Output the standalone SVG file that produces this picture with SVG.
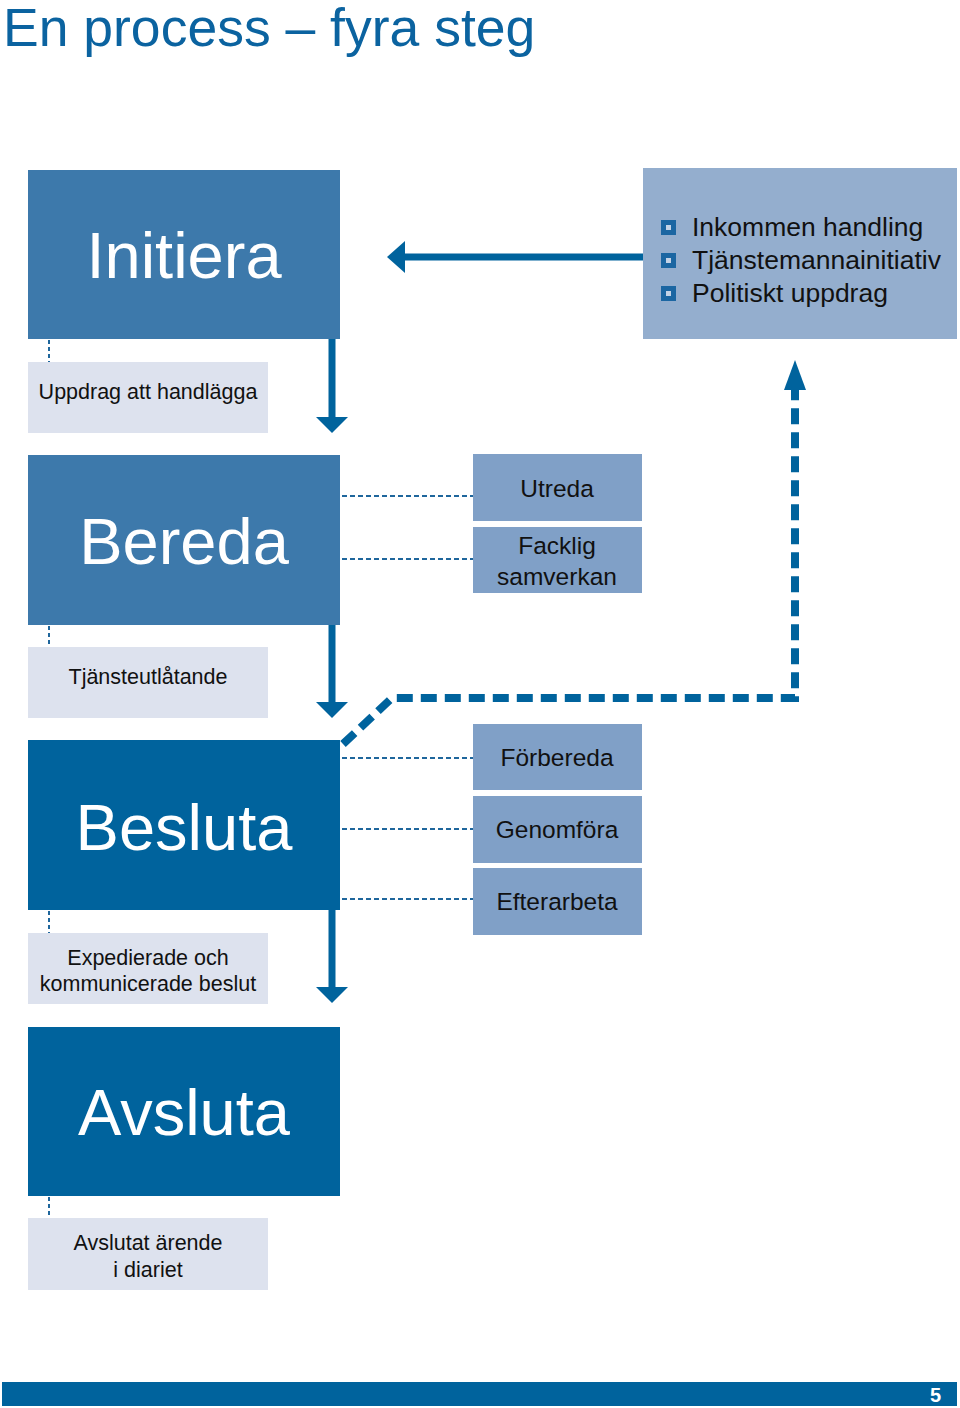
<svg xmlns="http://www.w3.org/2000/svg" width="960" height="1408" viewBox="0 0 960 1408">
<style>
.t{font-family:"Liberation Sans",Arial,sans-serif}
.big{font-size:65px;fill:#fff;text-anchor:middle}
.sub{font-size:24.5px;fill:#111;text-anchor:middle}
.lbl{font-size:21.5px;fill:#111;text-anchor:middle}
.lst{font-size:26.5px;fill:#111}
.stepA{fill:#3D79AB}
.stepB{fill:#00639D}
.gray{fill:#DDE2EE}
.sbox{fill:#80A0C7}
.thin{stroke:#1F669C;stroke-width:2;stroke-dasharray:5 3;fill:none}
.dot{stroke:#1F669C;stroke-width:2;stroke-dasharray:4 3;fill:none}
.solid{stroke:#00639D;stroke-width:7;fill:none}
.thick{stroke:#00639D;stroke-width:8;stroke-dasharray:16 8;fill:none}
.head{fill:#00639D}
.bul{fill:#1B66A2}
.bin{fill:#C4D3E6}
</style>
<rect width="960" height="1408" fill="#fff"/>
<text class="t" x="3" y="46" font-size="53.5" fill="#0B63A0">En process – fyra steg</text>

<g id="connectors">
  <line class="dot" x1="49" y1="340" x2="49" y2="362"/>
  <line class="dot" x1="49" y1="626" x2="49" y2="647"/>
  <line class="dot" x1="49" y1="911" x2="49" y2="933"/>
  <line class="dot" x1="49" y1="1197" x2="49" y2="1218"/>
  <line class="solid" x1="332" y1="339" x2="332" y2="420"/>
  <polygon class="head" points="316,417 348,417 332,433"/>
  <line class="solid" x1="332" y1="625" x2="332" y2="705"/>
  <polygon class="head" points="316,702 348,702 332,718"/>
  <line class="solid" x1="332" y1="910" x2="332" y2="990"/>
  <polygon class="head" points="316,987 348,987 332,1003"/>
  <line class="solid" x1="643" y1="257" x2="400" y2="257"/>
  <polygon class="head" points="387,257 405,241 405,273"/>
  <line class="thin" x1="342" y1="496" x2="473" y2="496"/>
  <line class="thin" x1="342" y1="559" x2="473" y2="559"/>
  <line class="thin" x1="342" y1="758" x2="473" y2="758"/>
  <line class="thin" x1="342" y1="829" x2="473" y2="829"/>
  <line class="thin" x1="342" y1="899" x2="473" y2="899"/>
  <path class="thick" d="M343,744 L392,698 L795,698 L795,388"/>
  <polygon class="head" points="795,360 784,390 806,390"/>
</g>

<g id="initiera">
  <rect class="stepA" x="28" y="170" width="312" height="169"/>
  <text class="t big" x="184" y="278">Initiera</text>
</g>
<g id="sources">
  <rect x="643" y="168" width="314" height="171" fill="#94AECE"/>
  <rect class="bul" x="661" y="220" width="15" height="15"/><rect class="bin" x="666" y="225" width="5" height="5"/>
  <rect class="bul" x="661" y="253" width="15" height="15"/><rect class="bin" x="666" y="258" width="5" height="5"/>
  <rect class="bul" x="661" y="286" width="15" height="15"/><rect class="bin" x="666" y="291" width="5" height="5"/>
  <text class="t lst" x="692" y="236">Inkommen handling</text>
  <text class="t lst" x="692" y="269">Tjänstemannainitiativ</text>
  <text class="t lst" x="692" y="302">Politiskt uppdrag</text>
</g>
<g id="uppdrag">
  <rect class="gray" x="28" y="362" width="240" height="71"/>
  <text class="t lbl" x="148" y="399">Uppdrag att handlägga</text>
</g>
<g id="bereda">
  <rect class="stepA" x="28" y="455" width="312" height="170"/>
  <text class="t big" x="184" y="564">Bereda</text>
</g>
<g id="utreda">
  <rect class="sbox" x="473" y="454" width="169" height="67"/>
  <text class="t sub" x="557" y="497">Utreda</text>
</g>
<g id="facklig">
  <rect class="sbox" x="473" y="527" width="169" height="66"/>
  <text class="t sub" x="557" y="554">Facklig</text>
  <text class="t sub" x="557" y="585">samverkan</text>
</g>
<g id="tjansteutlatande">
  <rect class="gray" x="28" y="647" width="240" height="71"/>
  <text class="t lbl" x="148" y="684">Tjänsteutlåtande</text>
</g>
<g id="besluta">
  <rect class="stepB" x="28" y="740" width="312" height="170"/>
  <text class="t big" x="184" y="850">Besluta</text>
</g>
<g id="forbereda">
  <rect class="sbox" x="473" y="724" width="169" height="66"/>
  <text class="t sub" x="557" y="766">Förbereda</text>
</g>
<g id="genomfora">
  <rect class="sbox" x="473" y="796" width="169" height="67"/>
  <text class="t sub" x="557" y="838">Genomföra</text>
</g>
<g id="efterarbeta">
  <rect class="sbox" x="473" y="868" width="169" height="67"/>
  <text class="t sub" x="557" y="910">Efterarbeta</text>
</g>
<g id="expedierade">
  <rect class="gray" x="28" y="933" width="240" height="71"/>
  <text class="t lbl" x="148" y="965">Expedierade och</text>
  <text class="t lbl" x="148" y="991">kommunicerade beslut</text>
</g>
<g id="avsluta">
  <rect class="stepB" x="28" y="1027" width="312" height="169"/>
  <text class="t big" x="184" y="1135">Avsluta</text>
</g>
<g id="avslutat">
  <rect class="gray" x="28" y="1218" width="240" height="72"/>
  <text class="t lbl" x="148" y="1250">Avslutat ärende</text>
  <text class="t lbl" x="148" y="1277">i diariet</text>
</g>
<g id="footer">
  <rect x="2" y="1382" width="955" height="24" fill="#00639D"/>
  <text class="t" x="941" y="1402" font-size="20" font-weight="bold" fill="#fff" text-anchor="end">5</text>
</g>
</svg>
